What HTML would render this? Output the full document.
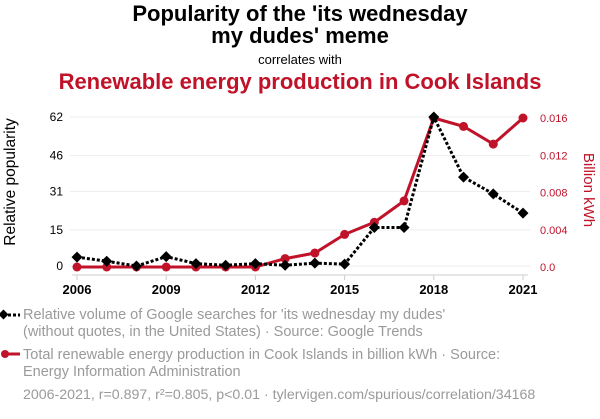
<!DOCTYPE html>
<html><head><meta charset="utf-8"><style>
body{margin:0;background:#fff;width:600px;height:414px;overflow:hidden;font-family:"Liberation Sans",sans-serif}
</style></head><body>
<svg id="c" width="600" height="414" xmlns="http://www.w3.org/2000/svg" font-family="Liberation Sans, sans-serif">
<text x="300" y="21" text-anchor="middle" font-size="22" font-weight="bold" fill="#000">Popularity of the 'its wednesday</text>
<text x="300" y="43" text-anchor="middle" font-size="22" font-weight="bold" fill="#000">my dudes' meme</text>
<text x="300" y="64" text-anchor="middle" font-size="13" fill="#000">correlates with</text>
<text x="300" y="89" text-anchor="middle" font-size="22" font-weight="bold" fill="#c0132a">Renewable energy production in Cook Islands</text>
<text transform="translate(15,182) rotate(-90)" text-anchor="middle" font-size="15.5" fill="#000">Relative popularity</text>
<text transform="translate(584,190) rotate(90)" text-anchor="middle" font-size="15" fill="#c0132a">Billion kWh</text>
<g id="grid"></g><g id="axes"></g><g id="marks"></g>
<g font-size="14.5" fill="#9a9a9a">
<line x1="3" y1="315" x2="20" y2="315" stroke="#000" stroke-width="3" stroke-dasharray="3,2"/>
<rect x="0" y="311" width="7" height="7" transform="rotate(45 3.5 314.5)" fill="#000"/>
<text x="23" y="319">Relative volume of Google searches for 'its wednesday my dudes'</text>
<text x="23" y="336">(without quotes, in the United States) · Source: Google Trends</text>
<line x1="3" y1="354" x2="20" y2="354" stroke="#c0132a" stroke-width="3"/>
<circle cx="5" cy="354" r="4" fill="#c0132a"/>
<text x="23" y="359">Total renewable energy production in Cook Islands in billion kWh · Source:</text>
<text x="23" y="376">Energy Information Administration</text>
<text x="23" y="399" font-size="14.2">2006-2021, r=0.897, r²=0.805, p&lt;0.01 · tylervigen.com/spurious/correlation/34168</text>
</g>
</svg>
<script>
const years=[2006,2007,2008,2009,2010,2011,2012,2013,2014,2015,2016,2017,2018,2019,2020,2021];
const popularity=[3.7,2,0,3.9,1,0.3,1,0.3,1.2,0.8,16,16,62,37,30,22];
const energy=[0,0,0,0,0,0,0,0.0009,0.0015,0.0035,0.0048,0.0071,0.016,0.0151,0.0132,0.016];
const leftTicks=[0,15,31,46,62];
const rightTicks=[0,0.004,0.008,0.012,0.016];
const rightTickLabels=["0.0","0.004","0.008","0.012","0.016"];
const xTicks=[2006,2009,2012,2015,2018,2021];
const NS="http://www.w3.org/2000/svg";
const X=y=>77+(y-2006)/(2021-2006)*446;
const YL=v=>266-v/62*149;
const YR=v=>267-v/0.016*149;
function mk(t,a,p){const e=document.createElementNS(NS,t);for(const k in a)e.setAttribute(k,a[k]);p.appendChild(e);return e;}
const grid=document.getElementById('grid'),axes=document.getElementById('axes'),marks=document.getElementById('marks');
leftTicks.forEach(v=>{
 const l=mk('line',{x1:70,x2:530,y1:YL(v),y2:YL(v),stroke:'#eee','stroke-width':1},grid);
 
 
 const t=mk('text',{x:63,y:YL(v)+4,'text-anchor':'end','font-size':12,fill:'#000'},axes);
 t.textContent=v;
 
 
});
rightTicks.forEach((v,i)=>{
 const t=mk('text',{x:540,y:YR(v)+4,'font-size':11,fill:'#c0132a'},axes);
 t.textContent=rightTickLabels[i];
 
 
});
const ax=mk('line',{x1:72,x2:528,y1:275,y2:275,stroke:'#ccc','stroke-width':1},axes);


xTicks.forEach(y=>{
 const tk=mk('line',{x1:X(y),x2:X(y),y1:275,y2:280,stroke:'#ccc'},axes);
 
 
 const t=mk('text',{x:X(y),y:294,'text-anchor':'middle','font-size':13,'font-weight':'bold',fill:'#000'},axes);
 t.textContent=y;
 
 
});
const rl=mk('polyline',{points:years.map((y,i)=>X(y)+','+YR(energy[i])).join(' '),fill:'none',stroke:'#c0132a','stroke-width':3},marks);


years.forEach((y,i)=>{
 const c=mk('circle',{cx:X(y),cy:YR(energy[i]),r:4.5,fill:'#c0132a'},marks);
 
 
});
const bl=mk('polyline',{points:years.map((y,i)=>X(y)+','+YL(popularity[i])).join(' '),fill:'none',stroke:'#000','stroke-width':3,'stroke-dasharray':'3,2'},marks);


years.forEach((y,i)=>{
 const cx=X(y),cy=YL(popularity[i]);
 const d=mk('polygon',{points:`${cx},${cy-5.5} ${cx+5.5},${cy} ${cx},${cy+5.5} ${cx-5.5},${cy}`,fill:'#000'},marks);
 
 
});
</script>
</body></html>
